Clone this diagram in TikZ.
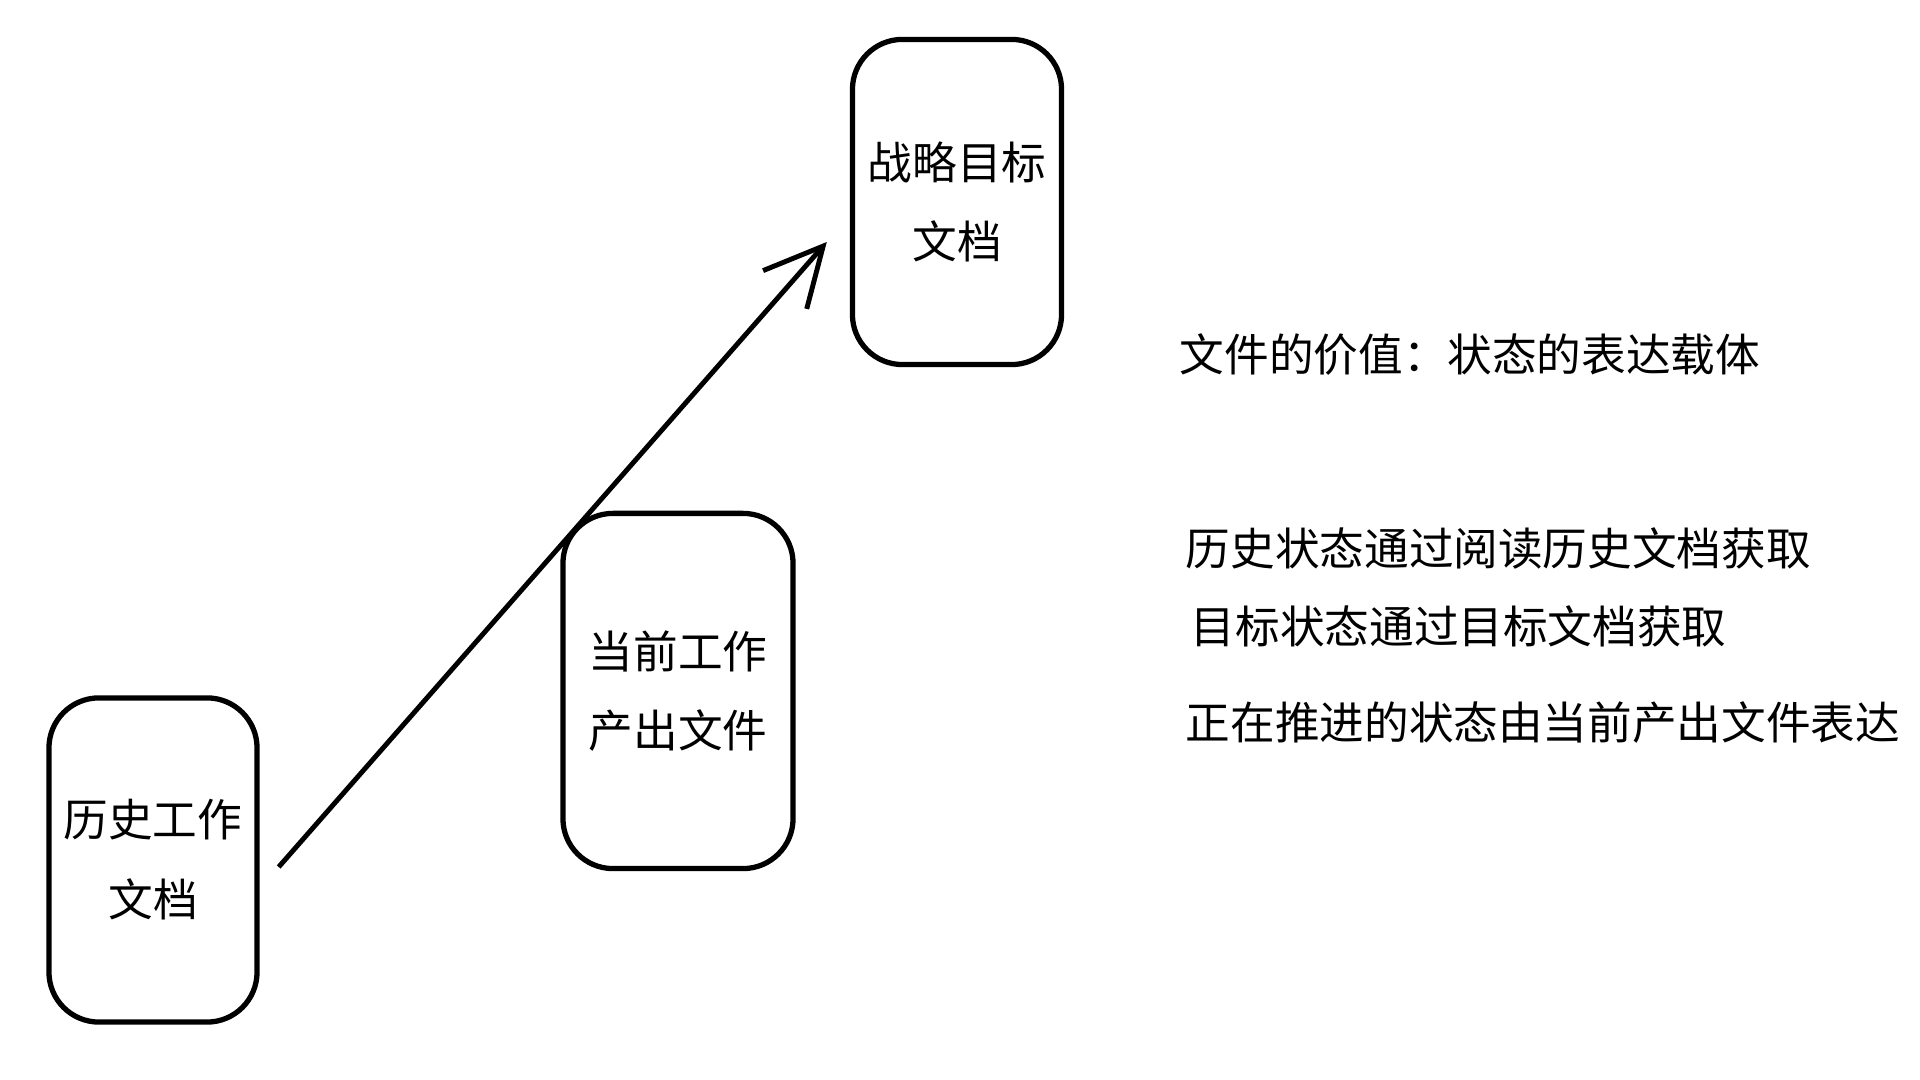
\documentclass[tikz,border=0pt]{standalone}
\usepackage{fontspec}
\newfontfamily\cjk{Noto Sans CJK SC}
\usetikzlibrary{arrows.meta}
\tikzset{
  docbox/.style={draw=black, line width=1.5pt, rounded corners=0.5cm, align=center,
    font=\cjk\fontsize{12.7pt}{22.7pt}\selectfont, inner sep=0pt},
  note/.style={anchor=west, inner sep=0pt, font=\cjk\fontsize{12.7pt}{15pt}\selectfont},
  flow/.style={line width=1.4pt, -{Straight Barb[length=0.58cm, width=0.58cm, line width=1.4pt]}}
}
\begin{document}
\begin{tikzpicture}[x=0.01cm, y=-0.01cm]
\useasboundingbox (0,0) rectangle (1920,1080);
\node[docbox, minimum width=2.08cm, minimum height=3.24cm] (hist) at (153,860) {历史工作\\文档};
\node[docbox, minimum width=2.09cm, minimum height=3.25cm] (goal) at (957,202) {战略目标\\文档};
\node[docbox, minimum width=2.30cm, minimum height=3.55cm] (cur) at (678,691) {当前工作\\产出文件};
\draw[flow] ([shift={(19,7)}]hist.east) -- ([shift={(-23,40)}]goal.west);
\node[note] (t1) at (1179,355) {文件的价值：状态的表达载体};
\node[note] (t2) at (1185,548) {历史状态通过阅读历史文档获取};
\node[note] (t3) at (1190,626) {目标状态通过目标文档获取};
\node[note] (t4) at (1185,723) {正在推进的状态由当前产出文件表达};
\end{tikzpicture}
\end{document}
